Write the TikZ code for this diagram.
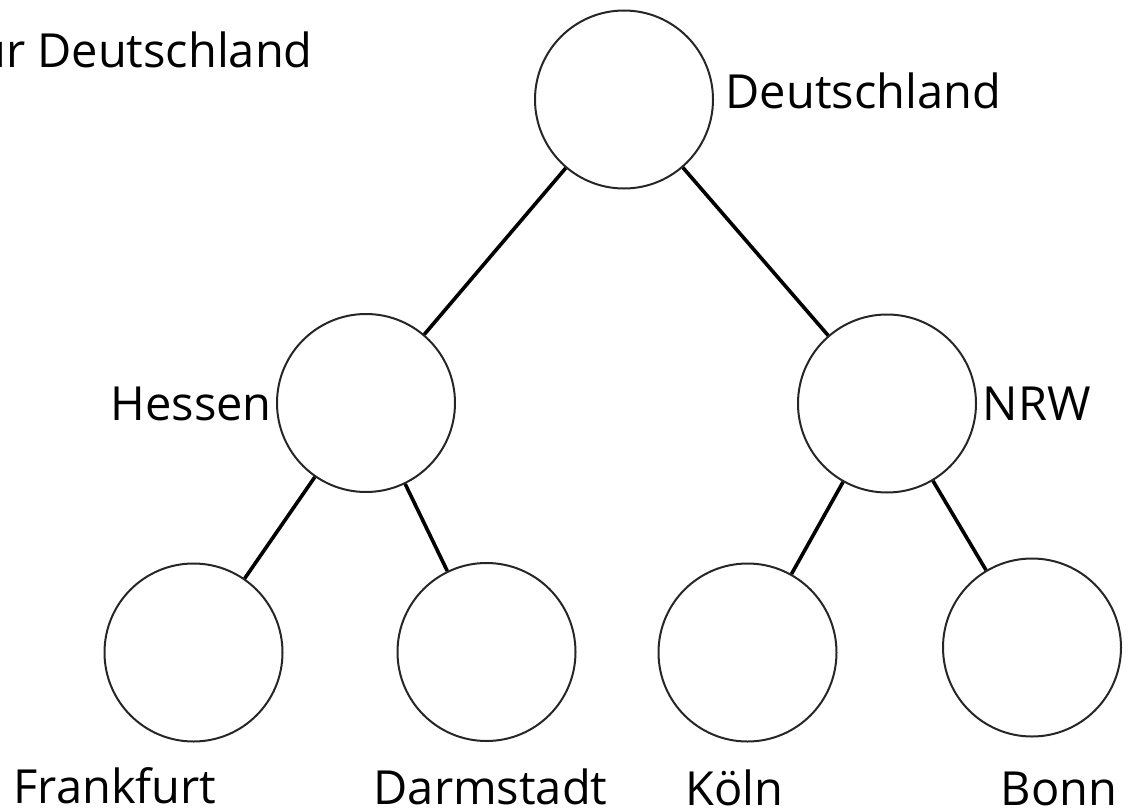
\documentclass[tikz,border=0pt]{standalone}
\usepackage{fontspec}
\setmainfont{Open Sans}
\begin{document}
\begin{tikzpicture}[x=1pt,y=-1pt,
  vertex/.style={circle,draw=black!85,line width=2pt,minimum size=178pt,inner sep=0pt},
  edge/.style={draw=black,line width=3.6pt},
  lbl/.style={inner sep=0pt,font=\fontsize{47}{56}\selectfont}]
\useasboundingbox (0,0) rectangle (1130,808);
% circles
\node[vertex] (de) at (624,99.5) {};
\node[vertex] (he) at (366,403) {};
\node[vertex] (nrw) at (887,403.5) {};
\node[vertex] (ffm) at (193.5,652.5) {};
\node[vertex] (da) at (486.5,652) {};
\node[vertex] (k) at (747.5,652.5) {};
\node[vertex] (bn) at (1032,647.5) {};
% edges
\draw[edge] (de) -- (he);
\draw[edge] (de) -- (nrw);
\draw[edge] (he) -- (ffm);
\draw[edge] (he) -- (da);
\draw[edge] (nrw) -- (k);
\draw[edge] (nrw) -- (bn);
% labels
\node[lbl,anchor=base east] (title) at (313,67) {ur Deutschland};
\node[lbl,anchor=base west] (lde) at (725.5,108) {Deutschland};
\node[lbl,anchor=base west] (lhe) at (110.5,420) {Hessen};
\node[lbl,anchor=base west] (lnrw) at (982.5,420) {NRW};
\node[lbl,anchor=base west] (lffm) at (13.5,803) {Frankfurt};
\node[lbl,anchor=base west] (lda) at (373.5,804) {Darmstadt};
\node[lbl,anchor=base west] (lk) at (685.5,805) {Köln};
\node[lbl,anchor=base west] (lbn) at (1000.5,805) {Bonn};
\end{tikzpicture}
\end{document}
